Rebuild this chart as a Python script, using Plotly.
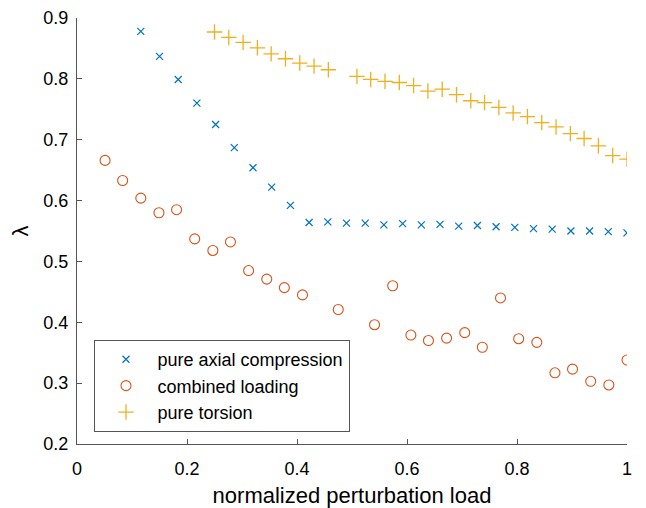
import numpy as np
import plotly.graph_objects as go

# pure axial compression
axial_x = [0.116, 0.150, 0.184, 0.218, 0.252, 0.286, 0.320, 0.354, 0.388, 0.422,
           0.456, 0.490, 0.524, 0.558, 0.592, 0.626, 0.660, 0.694, 0.728, 0.762,
           0.796, 0.830, 0.864, 0.898, 0.932, 0.966, 1.000]
axial_y = [0.878, 0.837, 0.799, 0.760, 0.725, 0.687, 0.654, 0.622, 0.592, 0.564,
           0.565, 0.563, 0.563, 0.560, 0.562, 0.560, 0.561, 0.558, 0.559, 0.557,
           0.556, 0.554, 0.553, 0.550, 0.550, 0.549, 0.547]

# combined loading
comb_x = [0.051, 0.083, 0.116, 0.149, 0.181, 0.214, 0.247, 0.279, 0.312, 0.345,
          0.377, 0.410, 0.475, 0.541, 0.574, 0.607, 0.639, 0.672, 0.705, 0.737,
          0.770, 0.803, 0.836, 0.869, 0.901, 0.934, 0.967, 1.000]
comb_y = [0.666, 0.633, 0.604, 0.580, 0.585, 0.537, 0.518, 0.532, 0.485, 0.471,
          0.457, 0.445, 0.421, 0.396, 0.460, 0.379, 0.370, 0.374, 0.383, 0.359,
          0.440, 0.373, 0.367, 0.317, 0.323, 0.303, 0.297, 0.338]

# pure torsion
tors_x = [0.250, 0.276, 0.302, 0.328, 0.353, 0.379, 0.405, 0.431, 0.457, 0.509,
          0.534, 0.560, 0.586, 0.612, 0.638, 0.664, 0.690, 0.716, 0.741, 0.767,
          0.793, 0.819, 0.845, 0.871, 0.897, 0.922, 0.948, 0.974, 1.000]
tors_y = [0.877, 0.868, 0.860, 0.851, 0.841, 0.833, 0.826, 0.821, 0.815, 0.804,
          0.799, 0.796, 0.794, 0.789, 0.780, 0.783, 0.774, 0.764, 0.761, 0.753,
          0.744, 0.738, 0.728, 0.721, 0.710, 0.702, 0.690, 0.674, 0.668]

x_ticks = [0, 0.2, 0.4, 0.6, 0.8, 1]
x_tick_labels = ["0", "0.2", "0.4", "0.6", "0.8", "1"]
y_ticks = [0.2, 0.3, 0.4, 0.5, 0.6, 0.7, 0.8, 0.9]
y_tick_labels = ["0.2", "0.3", "0.4", "0.5", "0.6", "0.7", "0.8", "0.9"]

FONT = "Liberation Sans, Arial, sans-serif"

fig = go.Figure()
fig.add_trace(go.Scatter(x=axial_x, y=axial_y, mode="markers", name="pure axial compression",
                         marker=dict(symbol="x-thin", size=7, color="#0072BD",
                                     line=dict(width=1.2, color="#0072BD"))))
fig.add_trace(go.Scatter(x=comb_x, y=comb_y, mode="markers", name="combined loading",
                         marker=dict(symbol="circle-open", size=10, color="#D95319",
                                     line=dict(width=1.1, color="#D95319"))))
fig.add_trace(go.Scatter(x=tors_x, y=tors_y, mode="markers", name="pure torsion",
                         marker=dict(symbol="cross-thin", size=11, color="#EDB120",
                                     line=dict(width=1.3, color="#EDB120"))))

axis_common = dict(showgrid=False, zeroline=False, showline=True, linecolor="#555555",
                   linewidth=1, ticks="inside", ticklen=5, tickcolor="#555555",
                   tickfont=dict(family=FONT, size=18, color="#000000"), mirror=False,
                   automargin=False, ticklabeloverflow="allow")

fig.update_layout(
    width=638, height=500,
    margin=dict(l=69, r=19, t=10, b=64),
    paper_bgcolor="white", plot_bgcolor="white",
    font=dict(family=FONT, size=18, color="#000000"),
    xaxis=dict(range=[0, 1], tickvals=x_ticks, ticktext=x_tick_labels,
               ticklabelstandoff=8,
               title=dict(text="normalized perturbation load", font=dict(family=FONT, size=22), standoff=10),
               **axis_common),
    yaxis=dict(range=[0.2, 0.9], tickvals=y_ticks, ticktext=y_tick_labels,
               ticklabelstandoff=4,
               title=dict(text="λ", font=dict(family=FONT, size=22), standoff=8),
               **axis_common),
    legend=dict(x=0.03, y=0.244, xanchor="left", yanchor="top",
                bordercolor="#555555", borderwidth=1, bgcolor="white",
                font=dict(family=FONT, size=18),
                itemwidth=53, tracegroupgap=0),
    showlegend=True,
)

fig.write_html("out.html")
